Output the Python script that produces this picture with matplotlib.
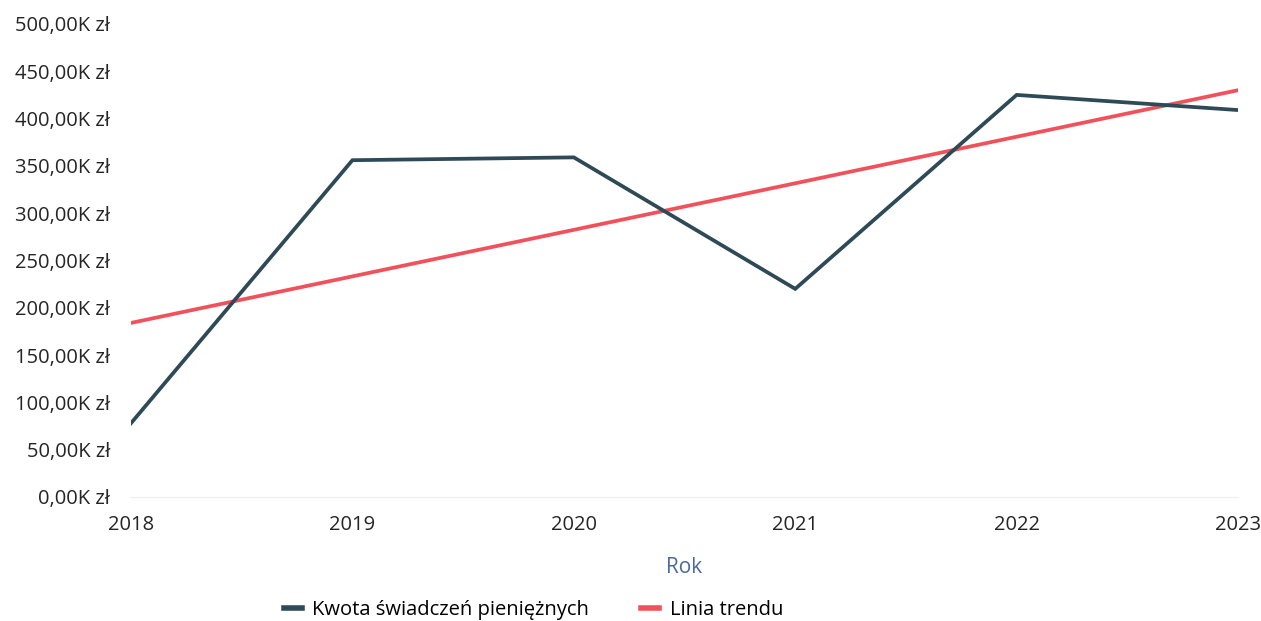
import matplotlib

matplotlib.use("Agg")
import matplotlib.pyplot as plt
from matplotlib.ticker import FuncFormatter

years = [2018, 2019, 2020, 2021, 2022, 2023]
amounts = [78000, 356000, 359000, 220000, 425000, 409000]
trend_years = [2018, 2023]
trend_values = [184000, 430000]

y_ticks = list(range(0, 500001, 50000))

plt.rcParams["font.family"] = ["Open Sans", "DejaVu Sans"]

fig = plt.figure(figsize=(12.61, 6.21), dpi=100)
ax = fig.add_axes([0.1039, 0.1997, 0.8779, 0.7617])

ax.plot(years, amounts, color="#2e4a56", lw=2.7, solid_joinstyle="miter",
        label="Kwota świadczeń pieniężnych", zorder=3)
ax.plot(trend_years, trend_values, color="#f0525c", lw=2.7,
        label="Linia trendu", zorder=2)

ax.set_xlim(years[0], years[-1])
ax.set_ylim(0, 500000)
ax.set_xticks(years)
ax.set_yticks(y_ticks)
ax.yaxis.set_major_formatter(FuncFormatter(
    lambda v, _: f"{v / 1000:.2f}".replace(".", ",") + "K zł"))

for side in ["top", "right", "left"]:
    ax.spines[side].set_visible(False)
ax.spines["bottom"].set_color("#f0f0f0")
ax.spines["bottom"].set_linewidth(1.0)
ax.tick_params(axis="both", length=0, labelsize=14.5, colors="#252525")
ax.tick_params(axis="y", pad=15)
ax.tick_params(axis="x", pad=13)

ax.set_xlabel("Rok", fontsize=15, color="#4a6a9c", labelpad=16)

leg = fig.legend(loc="center", bbox_to_anchor=(0.423, 0.018), ncol=2,
                 frameon=False, fontsize=14.5, handlelength=0.9,
                 handletextpad=0.5, columnspacing=2.6)
for line in leg.get_lines():
    line.set_linewidth(4)

fig.savefig("out.png", dpi=100)
